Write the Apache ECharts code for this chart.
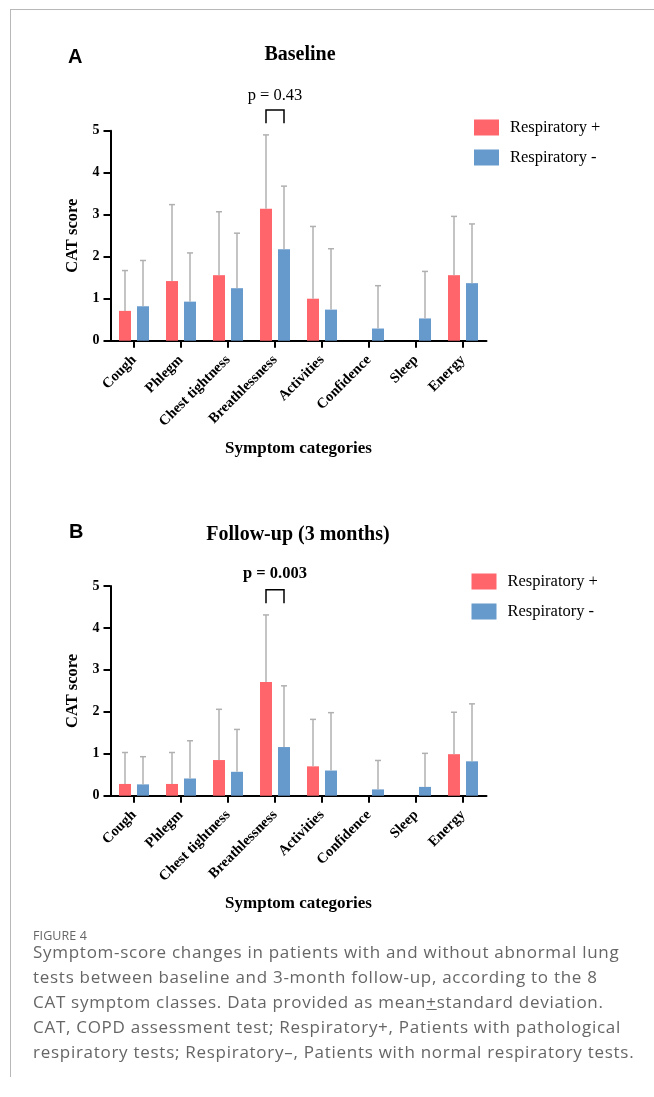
<!DOCTYPE html>
<html>
<head>
<meta charset="utf-8">
<script src="https://cdn.jsdelivr.net/npm/echarts@6/dist/echarts.min.js"></script>
<style>
  html, body { margin: 0; padding: 0; background: #fff; }
  #wrap { position: relative; width: 654px; height: 1097px; overflow: hidden; }
  #chart { position: absolute; left: 0; top: 0; width: 654px; height: 1097px; }
  .frameTop { position: absolute; left: 11px; top: 9px; width: 643px; height: 0; border-top: 1.5px solid #b8b8b8; }
  .frameLeft { position: absolute; left: 10px; top: 9px; width: 0; height: 1068px; border-left: 1.5px solid #b8b8b8; }
  #figlabel { position: absolute; left: 33px; top: 927px; font-family: "Open Sans", sans-serif; font-size: 12.5px; color: #666; letter-spacing: 0.1px; }
  #caption { position: absolute; left: 33px; top: 939px; font-family: "Open Sans", sans-serif; font-size: 17px; line-height: 25px; color: #666; white-space: nowrap; letter-spacing: 0.72px; }
</style>
</head>
<body>
<div id="wrap">
  <div class="frameTop"></div>
  <div class="frameLeft"></div>
  <div id="chart"></div>
  <div id="figlabel">FIGURE 4</div>
  <div id="caption">Symptom-score changes in patients with and without abnormal lung<br>tests between baseline and 3-month follow-up, according to the 8<br>CAT symptom classes. Data provided as mean<u>+</u>standard deviation.<br>CAT, COPD assessment test; Respiratory+, Patients with pathological<br>respiratory tests; Respiratory&#8211;, Patients with normal respiratory tests.</div>
</div>
<script>
// ---- data ----
const categories = ['Cough', 'Phlegm', 'Chest tightness', 'Breathlessness', 'Activities', 'Confidence', 'Sleep', 'Energy'];
const seriesNames = ['Respiratory +', 'Respiratory -'];
const yTicks = [0, 1, 2, 3, 4, 5];

// Panel A: Baseline
const baselinePosMean = [0.71, 1.42, 1.56, 3.14, 1.00, 0, 0, 1.56];
const baselinePosSD   = [0.96, 1.82, 1.51, 1.76, 1.72, 0, 0, 1.40];
const baselineNegMean = [0.82, 0.93, 1.25, 2.18, 0.74, 0.29, 0.53, 1.37];
const baselineNegSD   = [1.09, 1.16, 1.31, 1.50, 1.45, 1.02, 1.12, 1.41];

// Panel B: Follow-up (3 months)
const followPosMean = [0.28, 0.28, 0.85, 2.71, 0.70, 0, 0, 0.99];
const followPosSD   = [0.75, 0.75, 1.21, 1.60, 1.12, 0, 0, 1.00];
const followNegMean = [0.27, 0.41, 0.57, 1.16, 0.60, 0.15, 0.21, 0.82];
const followNegSD   = [0.66, 0.90, 1.01, 1.46, 1.38, 0.69, 0.80, 1.37];

// significance annotations: [category index, bracket low, bracket high, label level]
const baselineBracket = [3, 5.18, 5.49, 5.83];
const followBracket   = [3, 4.59, 4.91, 5.29];
const baselineP = 'p = 0.43';
const followP = 'p = 0.003';

// ---- styles ----
const RED = '#ff656a';
const BLUE = '#6699cc';
const SERIF = '"Liberation Serif", "Times New Roman", serif';
const SANS = '"Liberation Sans", Arial, sans-serif';
const BAR_W = 12, BAR_GAP = 6;
const HALF = (BAR_W + BAR_GAP) / 2;

const chart = echarts.init(document.getElementById('chart'), null, { renderer: 'canvas' });

function makeX(gi) {
  return {
    type: 'category', gridIndex: gi, data: categories,
    axisLine: { show: true, lineStyle: { color: '#000', width: 2 } },
    axisTick: { show: true, alignWithLabel: true, length: 7, lineStyle: { color: '#000', width: 2 } },
    axisLabel: { interval: 0, rotate: 45, margin: 17, color: '#000', fontFamily: SERIF, fontWeight: 'bold', fontSize: 14.5 },
    name: 'Symptom categories', nameLocation: 'middle', nameGap: 99,
    nameTextStyle: { color: '#000', fontFamily: SERIF, fontWeight: 'bold', fontSize: 17 }
  };
}
function makeY(gi) {
  return {
    type: 'value', gridIndex: gi, min: yTicks[0], max: yTicks[yTicks.length - 1], interval: 1,
    axisLine: { show: true, lineStyle: { color: '#000', width: 2 } },
    axisTick: { show: true, length: 7, lineStyle: { color: '#000', width: 2 } },
    splitLine: { show: false },
    axisLabel: { margin: 11, color: '#000', fontFamily: SERIF, fontWeight: 'bold', fontSize: 14 },
    name: 'CAT score', nameLocation: 'middle', nameRotate: 90, nameGap: 27,
    nameTextStyle: { color: '#000', fontFamily: SERIF, fontWeight: 'bold', fontSize: 16.5 }
  };
}
function barSeries(name, gi, values, color) {
  return {
    type: 'bar', name: name, xAxisIndex: gi, yAxisIndex: gi,
    data: values, barWidth: BAR_W, barGap: (BAR_GAP / BAR_W * 100) + '%',
    itemStyle: { color: color }, z: 2
  };
}
function errSeries(gi, means, sds, dir) {
  return {
    type: 'custom', xAxisIndex: gi, yAxisIndex: gi, z: 3, silent: true,
    data: means.map((m, i) => [i, m, sds[i]]),
    encode: { x: 0, y: 1 },
    renderItem: function (params, api) {
      const sd = api.value(2);
      if (!(sd > 0)) return null;
      const idx = api.value(0), m = api.value(1);
      const p0 = api.coord([idx, m]);
      const p1 = api.coord([idx, m + sd]);
      const x = p0[0] + dir * HALF;
      const st = { stroke: '#b0b0b0', lineWidth: 1.5 };
      return {
        type: 'group', children: [
          { type: 'line', shape: { x1: x, y1: p0[1], x2: x, y2: p1[1] }, style: st },
          { type: 'line', shape: { x1: x - 3, y1: p1[1], x2: x + 3, y2: p1[1] }, style: st }
        ]
      };
    }
  };
}
function bracketSeries(gi, br, label, bold) {
  return {
    type: 'custom', xAxisIndex: gi, yAxisIndex: gi, z: 4, silent: true, clip: false,
    data: [br],
    encode: { x: 0, y: 1 },
    renderItem: function (params, api) {
      const idx = api.value(0);
      const lo = api.coord([idx, api.value(1)]);
      const hi = api.coord([idx, api.value(2)]);
      const tp = api.coord([idx, api.value(3)]);
      const xl = lo[0] - HALF, xr = lo[0] + HALF;
      return {
        type: 'group', children: [
          { type: 'polyline', shape: { points: [[xl, lo[1]], [xl, hi[1]], [xr, hi[1]], [xr, lo[1]]] },
            style: { stroke: '#000', lineWidth: 1.5, fill: null } },
          { type: 'text', x: lo[0], y: tp[1],
            style: { text: label, align: 'center', verticalAlign: 'middle', fill: '#000',
                     font: (bold ? 'bold ' : '') + '16.5px ' + SERIF } }
        ]
      };
    }
  };
}
function legend(left, top) {
  return {
    data: seriesNames, orient: 'vertical', left: left, top: top, padding: 0,
    itemWidth: 25, itemHeight: 16, itemGap: 13, icon: 'rect', selectedMode: false,
    textStyle: { color: '#000', fontFamily: SERIF, fontSize: 16.5, padding: [0, 0, 0, 6] }
  };
}

chart.setOption({
  animation: false,
  backgroundColor: 'transparent',
  grid: [
    { left: 110.5, top: 130.7, width: 376, height: 210, containLabel: false },
    { left: 110.5, top: 586, width: 376, height: 209.7, containLabel: false }
  ],
  xAxis: [makeX(0), makeX(1)],
  yAxis: [makeY(0), makeY(1)],
  legend: [legend(474, 119), legend(471.5, 573)],
  graphic: [
    { type: 'text', left: 68, top: 47, style: { text: 'A', font: 'bold 20px ' + SANS, fill: '#000' } },
    { type: 'text', left: 69, top: 522, style: { text: 'B', font: 'bold 20px ' + SANS, fill: '#000' } },
    { type: 'text', x: 300, y: 55, style: { text: 'Baseline', align: 'center', verticalAlign: 'middle', font: 'bold 20px ' + SERIF, fill: '#000' } },
    { type: 'text', x: 298, y: 535, style: { text: 'Follow-up (3 months)', align: 'center', verticalAlign: 'middle', font: 'bold 20px ' + SERIF, fill: '#000' } }
  ],
  series: [
    barSeries(seriesNames[0], 0, baselinePosMean, RED),
    barSeries(seriesNames[1], 0, baselineNegMean, BLUE),
    errSeries(0, baselinePosMean, baselinePosSD, -1),
    errSeries(0, baselineNegMean, baselineNegSD, 1),
    bracketSeries(0, baselineBracket, baselineP, false),
    barSeries(seriesNames[0], 1, followPosMean, RED),
    barSeries(seriesNames[1], 1, followNegMean, BLUE),
    errSeries(1, followPosMean, followPosSD, -1),
    errSeries(1, followNegMean, followNegSD, 1),
    bracketSeries(1, followBracket, followP, true)
  ]
});
</script>
</body>
</html>
